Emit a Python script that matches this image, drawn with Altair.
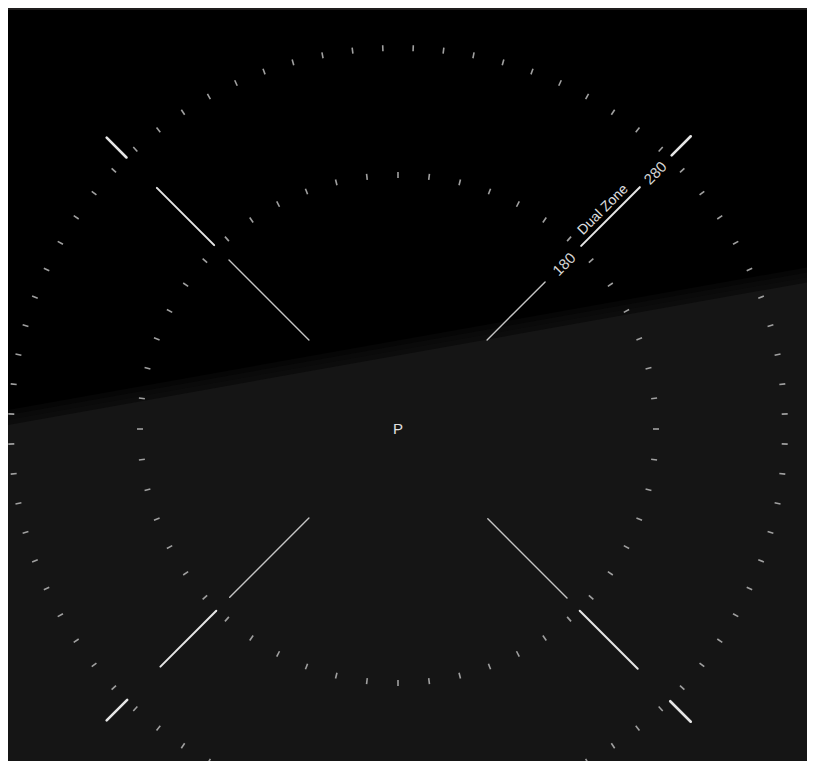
import altair as alt
import pandas as pd

# ---- data ----
# tick rings of the finder: name, number of ticks, horizontal / vertical radius (px), offset of first tick (deg)
ring_names = ["outer", "inner"]
ring_counts = [80, 52]
ring_rx = [387, 258]
ring_ry = [381, 254]
ring_offsets = [2.25, 0.0]

# crosshair arm segments: arm angle (deg, counter-clockwise from east), kind, start/end radius
seg_angle = [45, 45, 45, 135, 135, 135, 225, 225, 225, 315, 315, 315]
seg_kind = ["thin", "thick", "short"] * 4
seg_r0 = [126, 259, 387, 126, 260, 384, 126, 257, 383, 127, 257, 385]
seg_r1 = [208, 342, 414, 239, 341, 412, 238, 336, 412, 239, 339, 414]

# labels along the upper-right arm
label_text = ["180", "Dual Zone", "280"]
label_r = [234, 300, 363]
label_angle = [45, 45, 45]
label_kind = ["num", "zone", "num"]

# horizon (x, y relative to centre, y upwards)
horizon_x = [-390, 417]
horizon_y = [9, 153]

center_label = ["P"]

# ---- layout ----
W, H = 799, 751
CX, CY = 390, 419
xs = alt.Scale(domain=[-CX, W - CX], nice=False, zero=False)
ys = alt.Scale(domain=[CY - H, CY], nice=False, zero=False)
FONT = "Liberation Sans"

def X(f):
    return alt.X(f, type="quantitative", scale=xs, axis=None)

def Y(f):
    return alt.Y(f, type="quantitative", scale=ys, axis=None)

# ticks table
rows = []
for name, n, rx, ry, off in zip(ring_names, ring_counts, ring_rx, ring_ry, ring_offsets):
    for i in range(n):
        rows.append({"ring": name, "angle": off + i * 360.0 / n, "rx": rx, "ry": ry})
ticks_df = pd.DataFrame(rows)

seg_df = pd.DataFrame({"angle": seg_angle, "kind": seg_kind, "r0": seg_r0, "r1": seg_r1})
lab_df = pd.DataFrame({"text": label_text, "r": label_r, "angle": label_angle, "kind": label_kind})
hor_df = pd.DataFrame({"x": horizon_x, "y": horizon_y})
p_df = pd.DataFrame({"text": center_label, "x": [0], "y": [0]})

# background ground plane with a soft horizon edge
ground_layers = []
for shift, op in [(10, 0.3), (5, 0.3), (0, 0.3), (-5, 1.0)]:
    ground_layers.append(
        alt.Chart(hor_df)
        .transform_calculate(ys="datum.y + %d" % shift, yb=str(CY - H - 20))
        .mark_area(color="#151515", opacity=op, clip=True)
        .encode(x=X("x"), y=Y("ys"), y2="yb:Q")
    )

ticks = (
    alt.Chart(ticks_df)
    .transform_calculate(
        rad="datum.angle * PI / 180",
        x1="(datum.rx - 3) * cos(datum.rad)",
        y1="(datum.ry - 3) * sin(datum.rad)",
        x2="(datum.rx + 3) * cos(datum.rad)",
        y2="(datum.ry + 3) * sin(datum.rad)",
    )
    .mark_rule(color="#a0a0a0", strokeWidth=1.6, clip=True)
    .encode(x=X("x1"), y=Y("y1"), x2="x2:Q", y2="y2:Q")
)

segs = (
    alt.Chart(seg_df)
    .transform_calculate(
        rad="datum.angle * PI / 180",
        x1="datum.r0 * cos(datum.rad)",
        y1="datum.r0 * sin(datum.rad)",
        x2="datum.r1 * cos(datum.rad)",
        y2="datum.r1 * sin(datum.rad)",
    )
    .mark_rule(clip=True, strokeCap="round")
    .encode(
        x=X("x1"),
        y=Y("y1"),
        x2="x2:Q",
        y2="y2:Q",
        color=alt.Color("kind:N", legend=None,
                        scale=alt.Scale(domain=["thin", "thick", "short"],
                                        range=["#c4c4c4", "#e6e6e6", "#e6e6e6"])),
        strokeWidth=alt.StrokeWidth("kind:N", legend=None,
                                    scale=alt.Scale(domain=["thin", "thick", "short"],
                                                    range=[1.4, 2.6, 2.6])),
    )
)

label_base = alt.Chart(lab_df).transform_calculate(
    rad="datum.angle * PI / 180",
    x="datum.r * cos(datum.rad)",
    y="datum.r * sin(datum.rad)",
)
nums = label_base.transform_filter("datum.kind == 'num'").mark_text(
    angle=315, font=FONT, fontSize=15, color="#d4d4d4", baseline="middle", align="center", dy=1
).encode(x=X("x"), y=Y("y"), text="text:N")
zone = label_base.transform_filter("datum.kind == 'zone'").mark_text(
    angle=315, font=FONT, fontSize=14, color="#e0e0e0", baseline="middle", align="center", dy=-10
).encode(x=X("x"), y=Y("y"), text="text:N")

pmark = alt.Chart(p_df).mark_text(
    font=FONT, fontSize=15, color="#e0e0e0", baseline="middle", align="center"
).encode(x=X("x"), y=Y("y"), text="text:N")

chart = (
    alt.layer(*ground_layers, ticks, segs, nums, zone, pmark)
    .properties(width=W, height=H, padding={"left": 0, "top": 2, "right": 0, "bottom": 0},
                autosize=alt.AutoSizeParams(type="none"), background="#1f1d1d")
    .configure_view(stroke=None, fill="#000000")
)

chart.save("out.html", embed_options={"renderer": "svg", "actions": False})
